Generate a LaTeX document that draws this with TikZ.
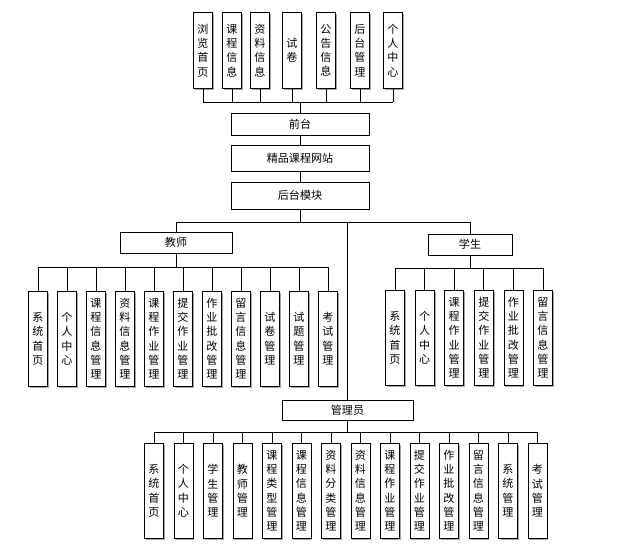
\documentclass[tikz,border=0pt]{standalone}
\usepackage{fontspec}
\newfontfamily\cjk{Noto Sans CJK SC}
\usetikzlibrary{shadows}
\begin{document}
\begin{tikzpicture}[x=0.75pt,y=-0.75pt,
  box/.style={draw=black, line width=0.6pt, fill=white, inner sep=0pt,
    font=\cjk\fontsize{8.3}{10.7}\selectfont, align=center,
    drop shadow={shadow xshift=1.1pt, shadow yshift=-1.1pt, fill=gray!70, opacity=1}},
  vbox/.style={box, minimum width=14.25pt, anchor=north},
  topbox/.style={vbox, minimum height=57pt},
  childbox/.style={vbox, minimum height=71pt},
  conn/.style={line width=0.6pt, black}]
\useasboundingbox (0,0) rectangle (642,547);

% top row
\foreach \x/\t [count=\i] in {203/{浏\\览\\首\\页}, 232/{课\\程\\信\\息}, 260/{资\\料\\信\\息}, 292/{试\\卷}, 326/{公\\告\\信\\息}, 360/{后\\台\\管\\理}, 393/{个\\人\\中\\心}}
  \node[topbox] (t\i) at (\x,12) {\t};

\node[box, minimum width=103.5pt, minimum height=16.5pt] (front) at (300,124) {前台};
\node[box, minimum width=103.5pt, minimum height=19.5pt] (site) at (300,158) {精品课程网站};
\node[box, minimum width=103.5pt, minimum height=20.25pt] (back) at (300,195.5) {后台模块};

\coordinate (busT) at (300,102);
\draw[conn] (t1.south |- busT) -- (t7.south |- busT);
\foreach \i in {1,...,7} \draw[conn] (t\i.south) -- (t\i.south |- busT);
\draw[conn] (busT) -- (front.north);
\draw[conn] (front.south) -- (site.north);
\draw[conn] (site.south) -- (back.north);

% roles
\node[box, minimum width=84pt, minimum height=15.75pt] (teacher) at (176,242.5) {教师};
\node[box, minimum width=63pt, minimum height=15.75pt] (student) at (470,244.5) {学生};
\node[box, minimum width=98.25pt, minimum height=15pt] (admin) at (347.5,410) {管理员};

\coordinate (J) at (300,222);
\draw[conn] (back.south) -- (J);
\draw[conn] (teacher.north |- J) -- (student.north |- J);
\draw[conn] (teacher.north) -- (teacher.north |- J);
\draw[conn] (student.north) -- (student.north |- J);
\draw[conn] (admin.north) -- (admin.north |- J);

% teacher children
\coordinate (busTe) at (176,267);
\foreach \t [count=\i] in {{系\\统\\首\\页}, {个\\人\\中\\心}, {课\\程\\信\\息\\管\\理}, {资\\料\\信\\息\\管\\理}, {课\\程\\作\\业\\管\\理}, {提\\交\\作\\业\\管\\理}, {作\\业\\批\\改\\管\\理}, {留\\言\\信\\息\\管\\理}, {试\\卷\\管\\理}, {试\\题\\管\\理}, {考\\试\\管\\理}}
  \node[childbox] (te\i) at ({38+29*(\i-1)},291) {\t};
\draw[conn] (te1.north |- busTe) -- (te11.north |- busTe);
\foreach \i in {1,...,11} \draw[conn] (te\i.north) -- (te\i.north |- busTe);
\draw[conn] (teacher.south) -- (busTe);

% student children
\coordinate (busSt) at (470,268);
\foreach \t [count=\i] in {{系\\统\\首\\页}, {个\\人\\中\\心}, {课\\程\\作\\业\\管\\理}, {提\\交\\作\\业\\管\\理}, {作\\业\\批\\改\\管\\理}, {留\\言\\信\\息\\管\\理}}
  \node[childbox] (st\i) at ({395+29.6*(\i-1)},290) {\t};
\draw[conn] (st1.north |- busSt) -- (st6.north |- busSt);
\foreach \i in {1,...,6} \draw[conn] (st\i.north) -- (st\i.north |- busSt);
\draw[conn] (student.south) -- (busSt);

% admin children
\coordinate (busAd) at (347.5,432);
\foreach \t [count=\i] in {{系\\统\\首\\页}, {个\\人\\中\\心}, {学\\生\\管\\理}, {教\\师\\管\\理}, {课\\程\\类\\型\\管\\理}, {课\\程\\信\\息\\管\\理}, {资\\料\\分\\类\\管\\理}, {资\\料\\信\\息\\管\\理}, {课\\程\\作\\业\\管\\理}, {提\\交\\作\\业\\管\\理}, {作\\业\\批\\改\\管\\理}, {留\\言\\信\\息\\管\\理}, {系\\统\\管\\理}, {考\\试\\管\\理}}
  \node[childbox] (ad\i) at ({154+29.5*(\i-1)},443) {\t};
\draw[conn] (ad1.north |- busAd) -- (ad14.north |- busAd);
\foreach \i in {1,...,14} \draw[conn] (ad\i.north) -- (ad\i.north |- busAd);
\draw[conn] (admin.south) -- (busAd);
\end{tikzpicture}
\end{document}
